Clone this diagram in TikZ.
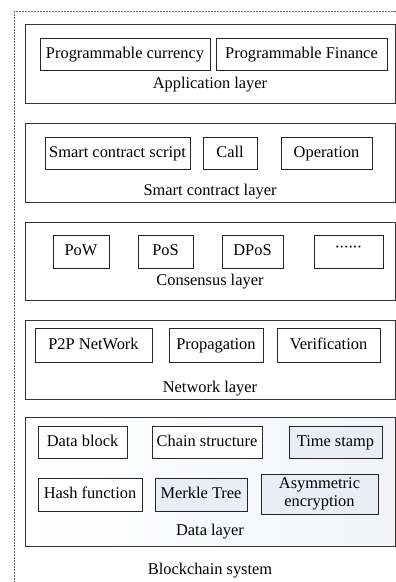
\documentclass[tikz,border=0pt]{standalone}
\usepackage{fontspec}
\setmainfont{Liberation Serif}
\usetikzlibrary{positioning}
\definecolor{boxfill}{RGB}{233,237,246}
\definecolor{layerfill}{RGB}{242,244,249}

\begin{document}
\begin{tikzpicture}[x=1pt,y=-1pt,font=\fontsize{16.4}{18}\selectfont]

	\tikzset{layer/.style={draw=black!80, line width=0.8pt, minimum width=370pt, inner sep=0pt}}
	\tikzset{item/.style={draw=black!85, line width=0.7pt, minimum height=32pt, inner sep=0pt,
			text height=11.5pt, text depth=3.5pt, align=center}}
	\tikzset{shaded item/.style={item, fill=boxfill}}

	\useasboundingbox (0,0) rectangle (396,582);
	\draw[gray!80!black, dash pattern=on 2pt off 1pt, line width=0.7pt] (14,11) rectangle (420,600);

	% layers
	\node[layer, minimum height=79pt] (app) at (210,63.5) {};
	\node[layer, minimum height=79pt] (sc) at (210,162.5) {};
	\node[layer, minimum height=78pt] (cons) at (210,261) {};
	\node[layer, minimum height=79pt] (net) at (210,359.5) {};
	\node[layer, minimum height=129pt, left color=white, right color=layerfill] (data) at (210,481.5) {};

	% application layer
	\node[item, minimum width=170pt] (appcur) at (125,54) {Programmable currency};
	\node[item, minimum width=171pt] (appfin) at (301.5,54) {Programmable Finance};
	\node (applbl) at (210,85) {Application layer};

	% smart contract layer
	\node[item, minimum width=145pt] (scscript) at (117.5,153) {Smart contract script};
	\node[item, minimum width=54pt] (sccall) at (230,153) {Call};
	\node[item, minimum width=91pt] (scop) at (326.5,153) {Operation};
	\node (sclbl) at (210,192) {Smart contract layer};

	% consensus layer
	\node[item, minimum width=56pt, minimum height=33pt] (pow) at (81,251.5) {PoW};
	\node[item, minimum width=55pt, minimum height=33pt] (pos) at (165.5,251.5) {PoS};
	\node[item, minimum width=61pt, minimum height=33pt] (dpos) at (252.5,251.5) {DPoS};
	\node[item, minimum width=69pt, minimum height=33pt] (more) at (348.5,251.5) {\raisebox{3pt}{\textperiodcentered\kern-1pt\textperiodcentered\kern-1pt\textperiodcentered\kern-1pt\textperiodcentered\kern-1pt\textperiodcentered\kern-1pt\textperiodcentered}};
	\node (conslbl) at (210,282) {Consensus layer};

	% network layer
	\node[item, minimum width=117pt, minimum height=34pt] (p2p) at (93.5,345) {P2P NetWork};
	\node[item, minimum width=94pt, minimum height=34pt] (prop) at (216,345) {Propagation};
	\node[item, minimum width=103pt, minimum height=34pt] (verif) at (328.5,345) {Verification};
	\node (netlbl) at (210,389) {Network layer};

	% data layer
	\node[item, fill=white, minimum width=89pt] (dblock) at (82.5,442) {Data block};
	\node[item, fill=white, minimum width=110pt] (chain) at (207,442) {Chain structure};
	\node[shaded item, minimum width=93pt] (tstamp) at (335.5,442) {Time stamp};
	\node[item, fill=white, minimum width=104pt, minimum height=33pt] (hash) at (90,494.5) {Hash function};
	\node[shaded item, minimum width=92pt, minimum height=33pt] (merkle) at (201,494.5) {Merkle Tree};
	\node[shaded item, minimum width=117pt, minimum height=40pt, text height=, text depth=] (asym) at (319.5,494) {Asymmetric\\encryption};
	\node (datalbl) at (210,532) {Data layer};

	\node (system) at (210,571) {Blockchain system};
\end{tikzpicture}
\end{document}
